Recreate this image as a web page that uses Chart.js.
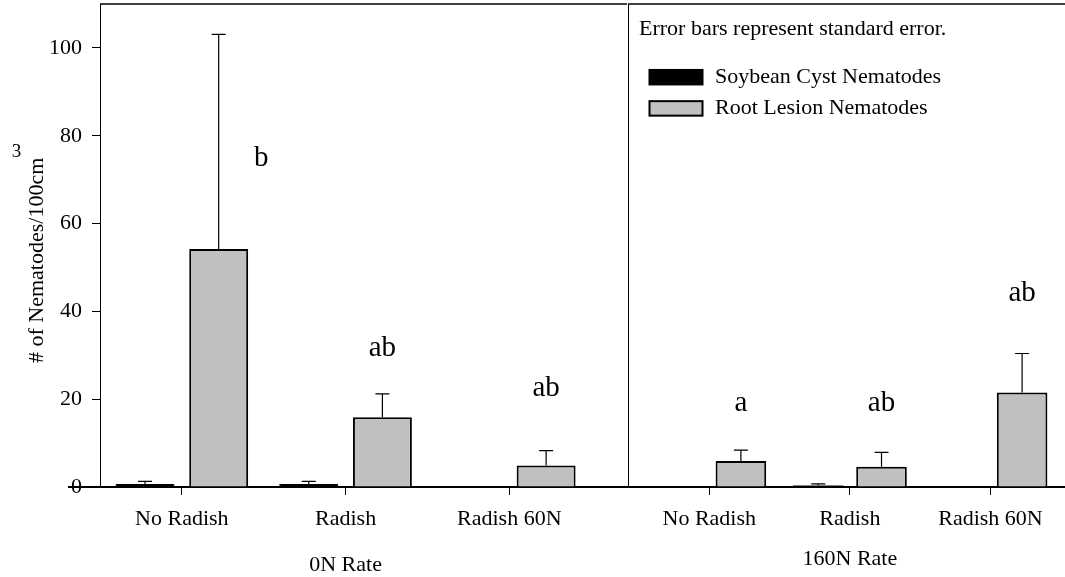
<!DOCTYPE html>
<html><head><meta charset="utf-8">
<script src="https://cdn.jsdelivr.net/npm/chart.js@4.4.1/dist/chart.umd.min.js"></script>
<style>
html,body{margin:0;padding:0;background:#fff;overflow:hidden}
#wrap{position:relative;width:1065px;height:577px;overflow:hidden;background:#fff}
#c1{position:absolute;left:0;top:-20px}
#c2{position:absolute;left:620px;top:-20px}
</style></head>
<body><div id="wrap"><canvas id="c1" width="627" height="597"></canvas><canvas id="c2" width="445" height="597"></canvas></div>
<script>
// ---- data ----
const categories = ['No Radish', 'Radish', 'Radish 60N'];
const groupTitles = ['0N Rate', '160N Rate'];
const seriesNames = ['Soybean Cyst Nematodes', 'Root Lesion Nematodes'];
const yTickValues = [0, 20, 40, 60, 80, 100];
const noteText = 'Error bars represent standard error.';
const yTitleText = '# of Nematodes/100cm';
const yTitleSup = '3';

const scn0N = [0.7, 0.7, 0];
const scn0NErr = [0.6, 0.6, 0];
const rln0N = [54.2, 15.9, 4.9];
const rln0NErr = [48.9, 5.3, 3.4];
const scn160N = [0, 0.4, 0];
const scn160NErr = [0, 0.3, 0];
const rln160N = [5.9, 4.6, 21.5];
const rln160NErr = [2.5, 3.3, 8.9];

const letters0N = ['b', 'ab', 'ab'];
const letters160N = ['a', 'ab', 'ab'];
const letterLevel0N = [73, 29.9, 20.7];
const letterLevel160N = [17.4, 17.4, 42.4];
const letterShift0N = [0.26, 0, 0];
const letterShift160N = [0, 0, 0];

// ---- style ----
const FONT = "'Liberation Serif', 'Times New Roman', Times, serif";
Chart.defaults.font.family = FONT;
Chart.defaults.font.size = 22;
Chart.defaults.color = '#000';
const SCN_COLOR = '#000000';
const RLN_COLOR = '#c0c0c0';

function annotPlugin(cfg) {
  return {
    id: 'annot' + cfg.id,
    afterDraw(chart) {
      const ctx = chart.ctx, a = chart.chartArea, x = chart.scales.x, y = chart.scales.y;
      ctx.save();
      ctx.strokeStyle = '#000';
      ctx.lineWidth = 1.5;
      ctx.beginPath(); ctx.moveTo(a.left, a.top); ctx.lineTo(a.right, a.top); ctx.stroke();
      // error bars (upper only)
      ctx.lineWidth = 1.2;
      chart.data.datasets.forEach((ds, di) => {
        const meta = chart.getDatasetMeta(di);
        meta.data.forEach((bar, i) => {
          const err = ds.errors[i];
          if (!err) return;
          const top = y.getPixelForValue(ds.data[i].y + err);
          ctx.beginPath();
          ctx.moveTo(bar.x, bar.y); ctx.lineTo(bar.x, top);
          ctx.moveTo(bar.x - 7, top); ctx.lineTo(bar.x + 7, top);
          ctx.stroke();
        });
      });
      // significance letters
      const rlnMeta = chart.getDatasetMeta(1);
      ctx.fillStyle = '#000';
      ctx.font = '29px ' + FONT;
      ctx.textAlign = 'center'; ctx.textBaseline = 'alphabetic';
      cfg.letters.forEach((t, i) => {
        const dx = x.getPixelForValue(cfg.letterShift[i]) - x.getPixelForValue(0);
        ctx.fillText(t, rlnMeta.data[i].x + dx, y.getPixelForValue(cfg.letterLevel[i]));
      });
      // group title
      ctx.font = '22px ' + FONT;
      ctx.fillText(cfg.group, x.getPixelForValue(1), a.bottom + cfg.groupOffset);
      if (cfg.extra) cfg.extra(chart, ctx, a);
      ctx.restore();
    }
  };
}

function leftExtra(chart, ctx, a) {
  const y0 = chart.scales.y.getPixelForValue(0);
  ctx.lineWidth = 2;
  ctx.beginPath(); ctx.moveTo(68, y0); ctx.lineTo(a.left, y0); ctx.stroke();
  ctx.font = '22px ' + FONT;
  ctx.fillStyle = '#000';
  const start = a.top + 359;
  ctx.save();
  ctx.translate(43, start);
  ctx.rotate(-Math.PI / 2);
  ctx.textAlign = 'left'; ctx.textBaseline = 'alphabetic';
  ctx.fillText(yTitleText, 0, 0);
  const w = ctx.measureText(yTitleText).width;
  ctx.restore();
  ctx.font = '19px ' + FONT;
  ctx.textAlign = 'center'; ctx.textBaseline = 'alphabetic';
  ctx.fillText(yTitleSup, 16.5, start - w - 0.5);
}

function rightExtra(chart, ctx, a) {
  ctx.font = '22px ' + FONT;
  ctx.textAlign = 'left'; ctx.textBaseline = 'alphabetic';
  ctx.fillStyle = '#000';
  ctx.fillText(noteText, a.left + 11, a.top + 31);
  chart.data.datasets.forEach((ds, i) => {
    const cy = a.top + 73.2 + i * 31.2;
    const bx = a.left + 21.5, bw = 53, bh = 14.5;
    ctx.fillStyle = ds.backgroundColor;
    ctx.fillRect(bx, cy - bh / 2, bw, bh);
    ctx.lineWidth = 2; ctx.strokeStyle = '#000';
    ctx.strokeRect(bx, cy - bh / 2, bw, bh);
    ctx.fillStyle = '#000';
    ctx.textBaseline = 'middle';
    ctx.fillText(ds.label, a.left + 87, cy);
  });
}

function buildChart(canvasId, cfg) {
  const datasets = [
    { label: seriesNames[0], data: cfg.scn.map((v, i) => ({x: i, y: v})), errors: cfg.scnErr,
      backgroundColor: SCN_COLOR, borderColor: '#000', borderWidth: 1,
      categoryPercentage: 0.9, barPercentage: 0.8 },
    { label: seriesNames[1], data: cfg.rln.map((v, i) => ({x: i, y: v})), errors: cfg.rlnErr,
      backgroundColor: RLN_COLOR, borderColor: '#000', borderWidth: 2,
      categoryPercentage: 0.9, barPercentage: 0.8 }
  ];
  return new Chart(document.getElementById(canvasId), {
    type: 'bar',
    data: { datasets },
    options: {
      responsive: false, animation: false, events: [],
      layout: { padding: { top: 24, left: 0, right: 0, bottom: 0 } },
      plugins: { legend: { display: false }, tooltip: { enabled: false }, title: { display: false } },
      scales: {
        x: {
          type: 'linear', offset: false, min: cfg.xMin, max: cfg.xMax,
          afterBuildTicks: s => { s.ticks = categories.map((_, i) => ({ value: i })); },
          ticks: { callback: v => categories[v], padding: 11, autoSkip: false, maxRotation: 0, minRotation: 0, color: '#000', font: { size: 22 } },
          grid: { offset: false, drawOnChartArea: false, tickLength: 8, color: '#000', lineWidth: 1 },
          border: { color: '#000', width: 2 },
          afterFit: s => { s.height = 90; }
        },
        y: {
          min: 0, max: 110,
          afterBuildTicks: s => { s.ticks = yTickValues.map(v => ({ value: v })); },
          ticks: { display: cfg.showY, padding: 10, color: '#000', font: { size: 22 } },
          grid: { drawOnChartArea: false, drawTicks: cfg.showY, tickLength: 8, color: '#000', lineWidth: 1 },
          border: { color: '#000', width: 1 },
          afterFit: s => { s.width = cfg.yWidth; }
        }
      }
    },
    plugins: [annotPlugin(cfg)]
  });
}

buildChart('c1', {
  id: 'L', scn: scn0N, scnErr: scn0NErr, rln: rln0N, rlnErr: rln0NErr,
  letters: letters0N, letterLevel: letterLevel0N, letterShift: letterShift0N,
  group: groupTitles[0], groupOffset: 83.5,
  xMin: -0.5, xMax: 2.719, showY: true, yWidth: 100, extra: leftExtra
});
buildChart('c2', {
  id: 'R', scn: scn160N, scnErr: scn160NErr, rln: rln160N, rlnErr: rln160NErr,
  letters: letters160N, letterLevel: letterLevel160N, letterShift: letterShift160N,
  group: groupTitles[1], groupOffset: 77.5,
  xMin: -0.578, xMax: 2.530, showY: false, yWidth: 8, extra: rightExtra
});
</script></body></html>
